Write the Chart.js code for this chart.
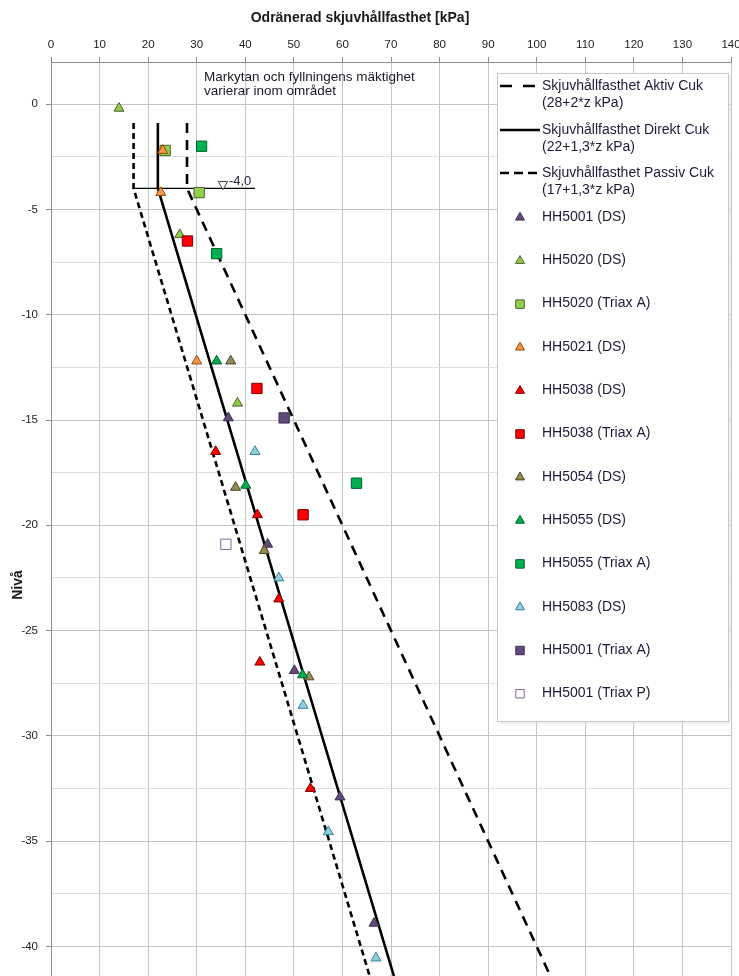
<!DOCTYPE html>
<html><head><meta charset="utf-8">
<script src="https://cdn.jsdelivr.net/npm/chart.js@4.4.0/dist/chart.umd.min.js"></script>
<style>html,body{margin:0;padding:0;background:#fff;overflow:hidden}#wrap{width:739px;height:976px;position:relative}</style>
</head><body><div id="wrap"><canvas id="c" width="739" height="976"></canvas></div>
<script>
// ---- axis ranges / ticks ----
const X_MIN = 0, X_MAX = 140, X_STEP = 10;
const Y_MIN = -41.4, Y_MAX = 2, Y_GRID_STEP = 2.5, Y_LABEL_STEP = 5;
const X_TITLE = 'Odränerad skjuvhållfasthet [kPa]';
const Y_TITLE = 'Nivå';
const NOTE_LINES = ['Markytan och fyllningens mäktighet', 'varierar inom området'];
const LEVEL_LABEL = '-4,0';

// ---- reference lines ----
const lineNames = [
  ['Skjuvhållfasthet Aktiv Cuk', '(28+2*z kPa)'],
  ['Skjuvhållfasthet Direkt Cuk', '(22+1,3*z kPa)'],
  ['Skjuvhållfasthet Passiv Cuk', '(17+1,3*z kPa)']
];
const aktivLine  = [[28, -0.9], [28, -4], [102.8, -41.4]];
const direktLine = [[22, -0.9], [22, -4], [70.6, -41.4]];
const passivLine = [[17, -0.9], [17, -4], [65.6, -41.4]];
const groundLine = [[17, -4], [42, -4]];
const levelMark  = [[35.4, -3.8]];

// ---- measurement series ----
const seriesNames = ['HH5001 (DS)', 'HH5020 (DS)', 'HH5020 (Triax A)', 'HH5021 (DS)', 'HH5038 (DS)',
  'HH5038 (Triax A)', 'HH5054 (DS)', 'HH5055 (DS)', 'HH5055 (Triax A)', 'HH5083 (DS)',
  'HH5001 (Triax A)', 'HH5001 (Triax P)'];
const hh5001DS  = [[36.5, -14.9], [44.6, -20.9], [50.1, -26.9], [59.5, -32.9], [66.5, -38.9]];
const hh5020DS  = [[14, -0.2], [26.5, -6.2], [38.4, -14.2]];
const hh5020TA  = [[23.5, -2.2], [30.5, -4.2]];
const hh5021DS  = [[23, -2.2], [22.6, -4.2], [30, -12.2]];
const hh5038DS  = [[33.9, -16.5], [42.5, -19.5], [46.9, -23.5], [43, -26.5], [53.4, -32.5]];
const hh5038TA  = [[28.1, -6.5], [42.4, -13.5], [51.9, -19.5]];
const hh5054DS  = [[37, -12.2], [38, -18.2], [43.9, -21.2], [53.1, -27.2]];
const hh5055DS  = [[34.1, -12.2], [40.1, -18.1], [51.8, -27.1]];
const hh5055TA  = [[31, -2], [34.1, -7.1], [62.9, -18]];
const hh5083DS  = [[42, -16.5], [46.9, -22.5], [51.9, -28.55], [57.1, -34.55], [66.9, -40.55]];
const hh5001TA  = [[48, -14.9]];
const hh5001TP  = [[36, -20.9]];
const seriesData = [hh5001DS, hh5020DS, hh5020TA, hh5021DS, hh5038DS, hh5038TA, hh5054DS,
  hh5055DS, hh5055TA, hh5083DS, hh5001TA, hh5001TP];

// ---- styles ----
const FONT = "'Liberation Sans', Arial, sans-serif";
const seriesStyle = [
  {s: 'triangle', f: '#5F497A', b: '#3F3151'},
  {s: 'triangle', f: '#92C84E', b: '#4F6228'},
  {s: 'rect',     f: '#92D050', b: '#4F6228'},
  {s: 'triangle', f: '#F79646', b: '#984807'},
  {s: 'triangle', f: '#FF0000', b: '#7F0000'},
  {s: 'rect',     f: '#FF0000', b: '#7F0000'},
  {s: 'triangle', f: '#948A54', b: '#4A452A'},
  {s: 'triangle', f: '#00B050', b: '#00602B'},
  {s: 'rect',     f: '#00B050', b: '#00602B'},
  {s: 'triangle', f: '#93CDDD', b: '#31859C'},
  {s: 'rect',     f: '#604A7B', b: '#3F3151'},
  {s: 'rect',     f: '#FFFFFF', b: '#8064A2'}
];
const lineStyle = [
  {dash: [10, 7], legendDash: [12, 11]},
  {dash: [], legendDash: []},
  {dash: [6, 4], legendDash: [9, 5]}
];

const toXY = a => a.map(([x, y]) => ({x, y}));
const datasets = [];
[aktivLine, direktLine, passivLine].forEach((d, i) => {
  datasets.push({label: lineNames[i].join(' '), data: toXY(d), showLine: true, fill: false,
    borderColor: '#000', borderWidth: 2.6, borderDash: lineStyle[i].dash, pointRadius: 0,
    order: 300, _legend: 'line', _idx: i});
});
datasets.push({label: 'ground', data: toXY(groundLine), showLine: true, borderColor: '#000',
  borderWidth: 1.4, pointRadius: 0, order: 290});
datasets.push({label: 'level', data: toXY(levelMark), pointStyle: 'triangle', rotation: 180,
  pointRadius: 5.5, backgroundColor: '#fff', borderColor: '#404040', borderWidth: 1, order: 280});
seriesData.forEach((d, i) => {
  const st = seriesStyle[i];
  datasets.push({label: seriesNames[i], data: toXY(d), pointStyle: st.s,
    pointRadius: st.s === 'rect' ? 7.3 : 5.8, backgroundColor: st.f, borderColor: st.b,
    borderWidth: 1, order: 100 - i, _legend: 'marker', _idx: i});
});

const isMajor = v => Math.abs(v / Y_LABEL_STEP - Math.round(v / Y_LABEL_STEP)) < 1e-6;
const noPad = s => { s.paddingTop = 0; s.paddingBottom = 0; s.paddingLeft = 0; s.paddingRight = 0; };

const overlay = {
  id: 'overlay',
  afterDraw(chart) {
    const ctx = chart.ctx;
    ctx.save();
    ctx.fillStyle = '#1a1a1a';
    // x title
    ctx.font = 'bold 14px ' + FONT;
    ctx.textAlign = 'center'; ctx.textBaseline = 'middle';
    ctx.fillText(X_TITLE, 360, 18);
    // y title
    ctx.save(); ctx.translate(18, 585); ctx.rotate(-Math.PI / 2);
    ctx.fillText(Y_TITLE, 0, 0); ctx.restore();
    // note
    ctx.font = '13.5px ' + FONT; ctx.textAlign = 'left';
    ctx.fillStyle = '#1a1a2a';
    NOTE_LINES.forEach((t, i) => ctx.fillText(t, 204, 77.5 + i * 13.5));
    // level label
    const xs = chart.scales.x, ys = chart.scales.y;
    const px = xs.getPixelForValue(levelMark[0][0]), py = ys.getPixelForValue(levelMark[0][1]);
    ctx.font = '13px ' + FONT; ctx.fillStyle = '#222244';
    ctx.fillText(LEVEL_LABEL, px + 6, py - 2.5);
    // legend box
    const L = {x: 497.5, y: 73.5, w: 231, h: 648};
    ctx.fillStyle = '#fff'; ctx.fillRect(L.x, L.y, L.w, L.h);
    ctx.strokeStyle = '#C8C8C8'; ctx.lineWidth = 1; ctx.strokeRect(L.x, L.y, L.w, L.h);
    ctx.strokeStyle = '#E2E2E2';
    ctx.beginPath(); ctx.moveTo(L.x + L.w + 1.5, L.y + 2); ctx.lineTo(L.x + L.w + 1.5, L.y + L.h + 1.5);
    ctx.lineTo(L.x + 2, L.y + L.h + 1.5); ctx.stroke();
    ctx.font = '14px ' + FONT; ctx.textAlign = 'left'; ctx.textBaseline = 'middle';
    const lineRows = [86, 130, 173];
    chart.data.datasets.forEach(ds => {
      if (ds._legend === 'line') {
        const y = lineRows[ds._idx];
        ctx.save(); ctx.strokeStyle = '#000'; ctx.lineWidth = 2.6;
        ctx.setLineDash(lineStyle[ds._idx].legendDash);
        ctx.beginPath(); ctx.moveTo(500, y); ctx.lineTo(540, y); ctx.stroke(); ctx.restore();
        ctx.fillStyle = '#1e1b3a';
        ctx.fillText(lineNames[ds._idx][0], 542, y);
        ctx.fillText(lineNames[ds._idx][1], 542, y + 17.5);
      } else if (ds._legend === 'marker') {
        const y = 217 + ds._idx * 43.3;
        ctx.fillStyle = ds.backgroundColor; ctx.strokeStyle = ds.borderColor; ctx.lineWidth = 1;
        Chart.helpers.drawPoint(ctx, {pointStyle: ds.pointStyle,
          radius: ds.pointStyle === 'rect' ? 6 : 5.2, rotation: 0, borderWidth: 1}, 520, y + 0.5);
        ctx.fillStyle = '#1e1b3a';
        ctx.fillText(ds.label, 542, y);
      }
    });
    ctx.restore();
  }
};

new Chart(document.getElementById('c'), {
  type: 'scatter',
  data: {datasets},
  options: {
    responsive: false, animation: false, devicePixelRatio: 1,
    layout: {autoPadding: false, padding: {left: 0, right: 8, top: 0, bottom: 0}},
    plugins: {legend: {display: false}, tooltip: {enabled: false}, title: {display: false}},
    scales: {
      x: {
        type: 'linear', position: 'top', min: X_MIN, max: X_MAX,
        afterFit: s => { s.height = 62; noPad(s); },
        ticks: {stepSize: X_STEP, color: '#222', font: {family: FONT, size: 11.5}, padding: 5, maxRotation: 0},
        grid: {color: '#C4C4C4', lineWidth: 1, tickLength: 5, tickColor: '#8C8C8C'},
        border: {color: '#8C8C8C'}
      },
      y: {
        type: 'linear', position: 'left', min: Y_MIN, max: Y_MAX,
        afterFit: s => { s.width = 51; noPad(s); },
        ticks: {stepSize: Y_GRID_STEP, includeBounds: false, color: '#222', padding: 8,
          font: {family: FONT, size: 11.5},
          callback: v => isMajor(v) ? String(Math.round(v)) : ''},
        grid: {color: c => isMajor(c.tick.value) ? '#C4C4C4' : '#DEDEDE', lineWidth: 1, tickLength: 5,
          tickColor: c => isMajor(c.tick.value) ? '#8C8C8C' : 'rgba(0,0,0,0)'},
        border: {color: '#8C8C8C'}
      }
    }
  },
  plugins: [overlay]
});
</script></body></html>
